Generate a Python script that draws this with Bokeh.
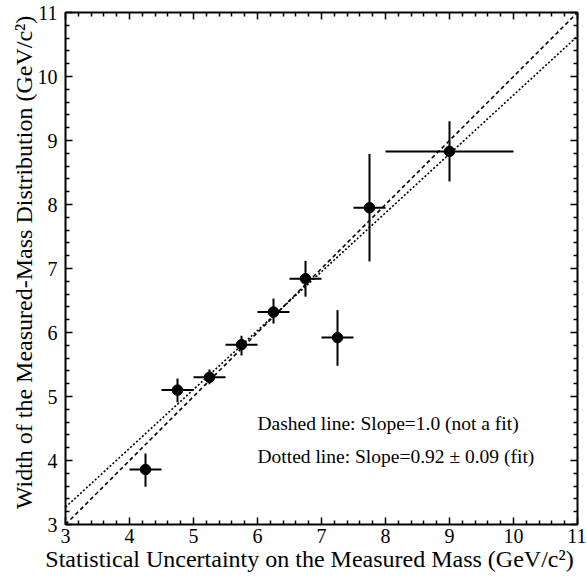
from bokeh.plotting import figure
from bokeh.models import Range1d, LinearAxis, ColumnDataSource, Label, FixedTicker
from bokeh.embed import file_html
from bokeh.resources import INLINE

# data
stat_unc = [4.25, 4.75, 5.25, 5.75, 6.25, 6.75, 7.25, 7.75, 9.0]
stat_lo = [4.0, 4.5, 5.0, 5.5, 6.0, 6.5, 7.0, 7.5, 8.0]
stat_hi = [4.5, 5.0, 5.5, 6.0, 6.5, 7.0, 7.5, 8.0, 10.0]
width = [3.86, 5.10, 5.30, 5.81, 6.32, 6.84, 5.92, 7.95, 8.83]
width_lo = [3.59, 4.91, 5.19, 5.64, 6.14, 6.56, 5.48, 7.11, 8.36]
width_hi = [4.11, 5.28, 5.42, 5.95, 6.53, 7.12, 6.35, 8.79, 9.30]

line_x = [3, 11]
dashed_slope, dashed_icpt = 1.0, 0.0
dotted_slope, dotted_icpt = 0.92, 0.51

major_ticks = [3, 4, 5, 6, 7, 8, 9, 10, 11]
minor_ticks = [3.2, 3.4, 3.6, 3.8, 4.2, 4.4, 4.6, 4.8, 5.2, 5.4, 5.6, 5.8,
               6.2, 6.4, 6.6, 6.8, 7.2, 7.4, 7.6, 7.8, 8.2, 8.4, 8.6, 8.8,
               9.2, 9.4, 9.6, 9.8, 10.2, 10.4, 10.6, 10.8]

x_title = "Statistical Uncertainty on the Measured Mass (GeV/c\u00b2)"
y_title = "Width of the Measured-Mass Distribution (GeV/c\u00b2)"
label1 = "Dashed line: Slope=1.0 (not a fit)"
label2 = "Dotted line: Slope=0.92 \u00b1 0.09 (fit)"

FONT = "Liberation Serif"
NB = "\u00a0"

W, H = 586, 577
ML, MT = 65, 12
FW, FH = 512, 512

p = figure(width=W, height=H, output_backend="svg", toolbar_location=None,
           x_range=Range1d(3, 11), y_range=Range1d(3, 11),
           min_border_left=ML, min_border_top=MT,
           min_border_right=W - ML - FW, min_border_bottom=H - MT - FH,
           frame_width=FW, frame_height=FH)
p.grid.visible = False
p.outline_line_color = "black"
p.outline_line_width = 2
p.background_fill_color = "white"
p.border_fill_color = "white"

for ax in (p.xaxis[0], p.yaxis[0]):
    ax.ticker = FixedTicker(ticks=major_ticks, minor_ticks=minor_ticks)
    ax.axis_line_color = None
    ax.major_tick_in = 7
    ax.major_tick_out = 0
    ax.minor_tick_in = 4
    ax.minor_tick_out = 0
    ax.major_tick_line_width = 1.5
    ax.minor_tick_line_width = 1.5
    ax.major_label_text_font = FONT
    ax.major_label_text_font_size = "20px"
    ax.major_label_text_color = "black"
    ax.axis_label_text_font = FONT
    ax.axis_label_text_font_size = "24px"
    ax.axis_label_text_font_style = "normal"
    ax.axis_label_text_color = "black"
p.xaxis[0].major_label_standoff = 4
p.yaxis[0].major_label_standoff = 8
# padding with no-break spaces nudges the centred titles toward the reference position
p.xaxis[0].axis_label = x_title + NB * 4
p.yaxis[0].axis_label = NB * 2 + y_title
p.xaxis[0].axis_label_standoff = 0
p.yaxis[0].axis_label_standoff = -2

# mirrored ticks on top and right (label-free axes using minor ticks only)
for side in ("above", "right"):
    for ticks, ln in ((major_ticks, 7), (minor_ticks, 4)):
        ax = LinearAxis(ticker=FixedTicker(ticks=[], minor_ticks=ticks))
        ax.axis_line_color = None
        ax.major_tick_in = 0
        ax.major_tick_out = 0
        ax.minor_tick_in = ln
        ax.minor_tick_out = 0
        ax.minor_tick_line_width = 1.5
        ax.major_label_standoff = 0
        ax.axis_label_standoff = 0
        p.add_layout(ax, side)

# lines
p.line(line_x, [dashed_slope * x + dashed_icpt for x in line_x],
       line_color="black", line_width=1.6, line_dash="4 3")
p.line(line_x, [dotted_slope * x + dotted_icpt for x in line_x],
       line_color="black", line_width=1.6, line_dash="2 2")

src = ColumnDataSource(dict(x=stat_unc, y=width, xl=stat_lo, xh=stat_hi,
                            yl=width_lo, yh=width_hi))
p.segment(x0="xl", x1="xh", y0="y", y1="y", source=src, line_color="black", line_width=2)
p.segment(x0="x", x1="x", y0="yl", y1="yh", source=src, line_color="black", line_width=2)
p.scatter(x="x", y="y", source=src, size=10.5, marker="circle",
          fill_color="black", line_color="black")

for txt, yv in [(label1, 4.58), (label2, 4.06)]:
    p.add_layout(Label(x=6.0, y=yv, text=txt, text_font=FONT, text_font_size="19.5px",
                       text_baseline="middle", text_align="left", text_color="black"))

open("out.html", "w").write(file_html(p, INLINE))
